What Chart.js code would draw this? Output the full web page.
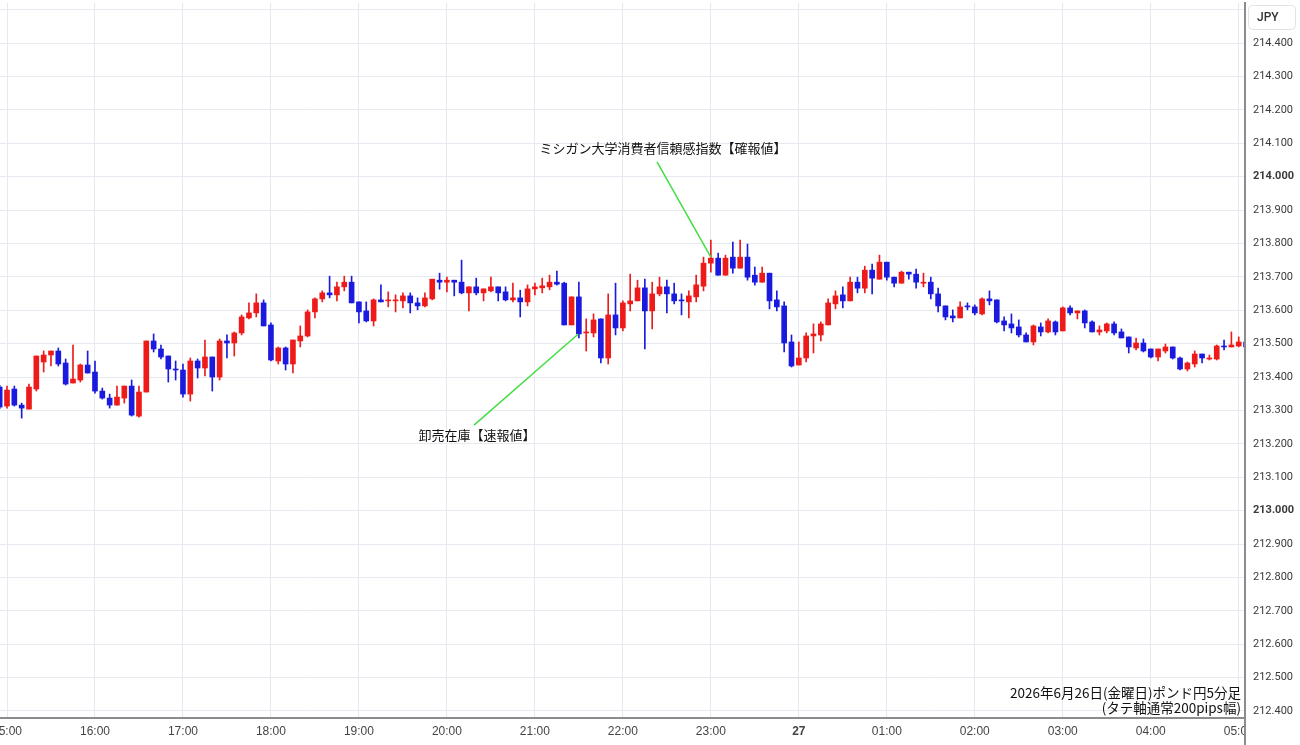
<!DOCTYPE html>
<html lang="ja">
<head>
<meta charset="utf-8">
<title>ポンド円5分足</title>
<script src="https://cdn.jsdelivr.net/npm/chart.js@4.4.1/dist/chart.umd.min.js"></script>
<style>
  html, body { margin: 0; padding: 0; background: #fff; }
  #wrap { width: 1300px; height: 745px; }
</style>
</head>
<body>
<div id="wrap"><canvas id="chart" width="1300" height="745"></canvas></div>
<script>
// 5-minute candles, first one at 14:55 (minutes counted from 15:00)
const firstMinute = -5;
const stepMinutes = 5;

const open = [213.370,
  213.313, 213.364, 213.316, 213.304, 213.364, 213.445, 213.466, 213.478, 213.442, 213.382, 213.391, 213.436,
  213.415, 213.358, 213.337, 213.316, 213.337, 213.373, 213.283, 213.355, 213.508, 213.484, 213.463, 213.424,
  213.421, 213.349, 213.448, 213.427, 213.460, 213.400, 213.508, 213.502, 213.532, 213.577, 213.592, 213.622,
  213.556, 213.448, 213.487, 213.439, 213.508, 213.523, 213.595, 213.634, 213.652, 213.646, 213.670, 213.684,
  213.625, 213.598, 213.568, 213.631, 213.628, 213.628, 213.628, 213.643, 213.622, 213.613, 213.634, 213.690,
  213.684, 213.690, 213.684, 213.652, 213.670, 213.652, 213.658, 213.670, 213.655, 213.631, 213.637, 213.625,
  213.664, 213.667, 213.670, 213.684, 213.681, 213.556, 213.640, 213.532, 213.532, 213.574, 213.457, 213.586,
  213.547, 213.619, 213.628, 213.667, 213.598, 213.649, 213.670, 213.649, 213.631, 213.625, 213.640, 213.672,
  213.741, 213.756, 213.705, 213.759, 213.726, 213.759, 213.705, 213.684, 213.711, 213.631, 213.613, 213.505,
  213.436, 213.457, 213.523, 213.526, 213.556, 213.619, 213.646, 213.628, 213.684, 213.666, 213.720, 213.693,
  213.744, 213.699, 213.681, 213.714, 213.708, 213.681, 213.684, 213.649, 213.613, 213.583, 213.577, 213.613,
  213.610, 213.589, 213.634, 213.631, 213.568, 213.559, 213.550, 213.526, 213.505, 213.550, 213.535, 213.565,
  213.538, 213.607, 213.592, 213.598, 213.565, 213.535, 213.538, 213.559, 213.535, 213.520, 213.487, 213.502,
  213.484, 213.460, 213.478, 213.490, 213.457, 213.424, 213.439, 213.469, 213.454, 213.454, 213.493, 213.490,
  213.493, 213.505];

const high = [213.375,
  213.373, 213.373, 213.322, 213.379, 213.463, 213.478, 213.478, 213.487, 213.454, 213.496, 213.439, 213.478,
  213.448, 213.367, 213.349, 213.373, 213.373, 213.391, 213.373, 213.508, 213.529, 213.496, 213.463, 213.448,
  213.439, 213.457, 213.454, 213.511, 213.460, 213.514, 213.526, 213.535, 213.586, 213.622, 213.649, 213.631,
  213.562, 213.490, 213.490, 213.511, 213.553, 213.601, 213.637, 213.658, 213.702, 213.684, 213.702, 213.702,
  213.625, 213.625, 213.634, 213.676, 213.655, 213.646, 213.652, 213.652, 213.637, 213.652, 213.693, 213.711,
  213.699, 213.690, 213.750, 213.670, 213.696, 213.664, 213.699, 213.670, 213.670, 213.681, 213.660, 213.676,
  213.681, 213.696, 213.705, 213.717, 213.684, 213.640, 213.684, 213.574, 213.589, 213.574, 213.649, 213.681,
  213.628, 213.708, 213.690, 213.693, 213.684, 213.699, 213.690, 213.681, 213.649, 213.658, 213.705, 213.759,
  213.810, 213.771, 213.765, 213.804, 213.810, 213.798, 213.729, 213.729, 213.711, 213.658, 213.625, 213.526,
  213.505, 213.532, 213.559, 213.565, 213.634, 213.658, 213.670, 213.699, 213.699, 213.732, 213.738, 213.765,
  213.744, 213.699, 213.717, 213.714, 213.723, 213.711, 213.699, 213.666, 213.613, 213.601, 213.625, 213.622,
  213.616, 213.637, 213.658, 213.631, 213.580, 213.589, 213.571, 213.532, 213.556, 213.562, 213.574, 213.568,
  213.610, 213.613, 213.598, 213.601, 213.568, 213.553, 213.562, 213.565, 213.544, 213.520, 213.517, 213.514,
  213.484, 213.484, 213.499, 213.490, 213.460, 213.445, 213.478, 213.469, 213.466, 213.496, 213.511, 213.535,
  213.520, 213.508];

const low = [213.305,
  213.307, 213.313, 213.277, 213.304, 213.358, 213.415, 213.433, 213.433, 213.376, 213.382, 213.385, 213.412,
  213.352, 213.334, 213.307, 213.316, 213.322, 213.283, 213.280, 213.355, 213.475, 213.454, 213.385, 213.391,
  213.340, 213.328, 213.397, 213.403, 213.358, 213.391, 213.457, 213.463, 213.526, 213.574, 213.580, 213.553,
  213.448, 213.439, 213.421, 213.412, 213.490, 213.520, 213.577, 213.625, 213.637, 213.628, 213.658, 213.622,
  213.562, 213.565, 213.553, 213.625, 213.610, 213.595, 213.607, 213.592, 213.601, 213.610, 213.631, 213.663,
  213.655, 213.643, 213.649, 213.598, 213.646, 213.628, 213.655, 213.628, 213.628, 213.625, 213.580, 213.613,
  213.646, 213.652, 213.661, 213.675, 213.556, 213.556, 213.517, 213.478, 213.520, 213.442, 213.439, 213.526,
  213.538, 213.598, 213.628, 213.484, 213.544, 213.643, 213.592, 213.619, 213.586, 213.577, 213.625, 213.658,
  213.714, 213.705, 213.705, 213.711, 213.726, 213.690, 213.675, 213.684, 213.604, 213.598, 213.475, 213.430,
  213.436, 213.445, 213.472, 213.508, 213.556, 213.604, 213.607, 213.628, 213.652, 213.652, 213.649, 213.693,
  213.690, 213.670, 213.681, 213.693, 213.666, 213.670, 213.634, 213.595, 213.571, 213.565, 213.577, 213.601,
  213.586, 213.586, 213.616, 213.562, 213.538, 213.532, 213.520, 213.505, 213.496, 213.523, 213.532, 213.526,
  213.538, 213.586, 213.574, 213.547, 213.535, 213.526, 213.532, 213.526, 213.517, 213.472, 213.481, 213.475,
  213.457, 213.448, 213.472, 213.454, 213.421, 213.418, 213.430, 213.442, 213.451, 213.451, 213.481, 213.490,
  213.490, 213.488];

const close = [213.310,
  213.361, 213.316, 213.307, 213.370, 213.463, 213.466, 213.478, 213.439, 213.379, 213.394, 213.436, 213.412,
  213.358, 213.337, 213.316, 213.340, 213.373, 213.286, 213.355, 213.508, 213.484, 213.460, 213.424, 213.421,
  213.349, 213.448, 213.427, 213.460, 213.400, 213.508, 213.502, 213.532, 213.580, 213.592, 213.622, 213.553,
  213.451, 213.487, 213.439, 213.511, 213.523, 213.595, 213.634, 213.652, 213.646, 213.670, 213.684, 213.622,
  213.595, 213.568, 213.631, 213.625, 213.631, 213.631, 213.643, 213.622, 213.613, 213.637, 213.693, 213.684,
  213.690, 213.684, 213.652, 213.670, 213.652, 213.664, 213.670, 213.652, 213.631, 213.637, 213.625, 213.664,
  213.670, 213.673, 213.684, 213.678, 213.556, 213.640, 213.529, 213.535, 213.571, 213.457, 213.586, 213.547,
  213.622, 213.628, 213.667, 213.598, 213.649, 213.670, 213.649, 213.628, 213.628, 213.643, 213.676, 213.741,
  213.756, 213.705, 213.756, 213.726, 213.759, 213.699, 213.684, 213.711, 213.628, 213.610, 213.502, 213.433,
  213.457, 213.523, 213.529, 213.559, 213.622, 213.643, 213.628, 213.684, 213.666, 213.720, 213.696, 213.744,
  213.699, 213.681, 213.714, 213.708, 213.684, 213.684, 213.649, 213.613, 213.580, 213.577, 213.610, 213.610,
  213.592, 213.634, 213.628, 213.565, 213.556, 213.547, 213.526, 213.505, 213.553, 213.535, 213.568, 213.535,
  213.607, 213.592, 213.598, 213.562, 213.535, 213.541, 213.559, 213.532, 213.517, 213.490, 213.502, 213.478,
  213.460, 213.484, 213.490, 213.457, 213.424, 213.442, 213.469, 213.457, 213.457, 213.493, 213.490, 213.496,
  213.505, 213.490];

// axis ticks
const xTickMinutes = [0, 60, 120, 180, 240, 300, 360, 420, 480, 540, 600, 660, 720, 780, 840];
const xTickLabels = ['15:00', '16:00', '17:00', '18:00', '19:00', '20:00', '21:00', '22:00', '23:00', '27', '01:00', '02:00', '03:00', '04:00', '05:00'];
const yTicks = [212.4, 212.5, 212.6, 212.7, 212.8, 212.9, 213.0, 213.1, 213.2, 213.3, 213.4, 213.5, 213.6, 213.7, 213.8, 213.9, 214.0, 214.1, 214.2, 214.3, 214.4, 214.5];

// event notes: label centre and leader line, in (minute, price)
const notes = [
  { text: 'ミシガン大学消費者信頼感指数【確報値】', label: [447.4, 214.086], from: [443.3, 214.044], to: [480, 213.759] },
  { text: '卸売在庫【速報値】', label: [320.5, 213.226], from: [318.5, 213.256], to: [389.6, 213.529] }
];
const footer = ['2026年6月26日(金曜日)ポンド円5分足', '(タテ軸通常200pips幅)'];

const UP = '#ee1b1b';
const DOWN = '#1b1bdf';
const GRID = '#e5eaf0';
const AXIS = '#8c8c8c';
const JP_FONT = "'Noto Sans CJK JP', 'Noto Sans', sans-serif";

const xs = open.map((_, k) => firstMinute + k * stepMinutes);
const colors = xs.map((_, k) => close[k] >= open[k] ? UP : DOWN);

const overlay = {
    id: 'overlay',
    afterDraw(chart) {
        const { ctx, scales: { x, y } } = chart;
        ctx.save();

        // leader lines + labels
        notes.forEach(n => {
            ctx.strokeStyle = '#44dd44';
            ctx.lineWidth = 1.5;
            ctx.beginPath();
            ctx.moveTo(x.getPixelForValue(n.from[0]), y.getPixelForValue(n.from[1]));
            ctx.lineTo(x.getPixelForValue(n.to[0]), y.getPixelForValue(n.to[1]));
            ctx.stroke();
            ctx.fillStyle = '#111';
            ctx.font = '13px ' + JP_FONT;
            ctx.textAlign = 'center';
            ctx.textBaseline = 'middle';
            ctx.fillText(n.text, x.getPixelForValue(n.label[0]), y.getPixelForValue(n.label[1]));
        });

        // footer note, bottom right
        ctx.fillStyle = '#111';
        ctx.font = '13.5px ' + JP_FONT;
        ctx.textAlign = 'right';
        ctx.textBaseline = 'middle';
        ctx.fillText(footer[0], 1241, 693);
        ctx.fillText(footer[1], 1241, 708);

        // hide time label overflow under the price axis
        ctx.fillStyle = '#fff';
        ctx.fillRect(1246, 719, 54, 26);

        // axis frame lines
        ctx.strokeStyle = AXIS;
        ctx.lineWidth = 2;
        ctx.beginPath();
        ctx.moveTo(0, 718);
        ctx.lineTo(1246, 718);
        ctx.moveTo(1245, 2);
        ctx.lineTo(1245, 745);
        ctx.stroke();

        // currency box
        ctx.fillStyle = '#fff';
        ctx.strokeStyle = '#e2e2e2';
        ctx.lineWidth = 1;
        ctx.beginPath();
        ctx.roundRect(1248.5, 5.5, 47, 24, 4);
        ctx.fill();
        ctx.stroke();
        ctx.fillStyle = '#333';
        ctx.font = '500 12px Roboto, sans-serif';
        ctx.textAlign = 'left';
        ctx.fillText('JPY', 1257, 18);

        ctx.restore();
    }
};

new Chart(document.getElementById('chart'), {
    type: 'bar',
    data: {
        datasets: [{
            label: 'wick',
            data: xs.map((v, k) => ({ x: v, y: [low[k], high[k]] })),
            backgroundColor: colors,
            barThickness: 1,
            grouped: false,
            borderWidth: 0
        }, {
            label: 'body',
            data: xs.map((v, k) => ({ x: v, y: [open[k], close[k]] })),
            backgroundColor: colors,
            barThickness: 5,
            minBarLength: 1,
            grouped: false,
            borderWidth: 0
        }]
    },
    plugins: [overlay],
    options: {
        responsive: false,
        animation: false,
        layout: { padding: { top: 3, left: 0, right: 0, bottom: 0 } },
        plugins: {
            legend: { display: false },
            tooltip: { enabled: false }
        },
        scales: {
            x: {
                type: 'linear',
                offset: false,
                min: -4.774,
                max: 844.28,
                grid: { color: GRID, drawTicks: false, offset: false },
                border: { display: false },
                afterBuildTicks: axis => { axis.ticks = xTickMinutes.map(v => ({ value: v })); },
                afterFit: axis => { axis.height = 27; axis.paddingLeft = 0; axis.paddingRight = 0; },
                ticks: {
                    autoSkip: false,
                    maxRotation: 0,
                    padding: 6,
                    color: '#444',
                    font: c => ({
                        family: "'Liberation Sans Narrow', 'Liberation Sans', Arial, sans-serif",
                        size: 12,
                        weight: c.tick && c.tick.label === '27' ? 'bold' : 'normal'
                    }),
                    callback: (value, index) => xTickLabels[index]
                }
            },
            y: {
                position: 'right',
                min: 212.379,
                max: 214.520,
                beginAtZero: false,
                grid: { color: GRID, drawTicks: false },
                border: { display: false },
                afterBuildTicks: axis => { axis.ticks = yTicks.map(v => ({ value: v })); },
                afterFit: axis => { axis.width = 55; axis.paddingTop = 0; axis.paddingBottom = 0; },
                ticks: {
                    padding: 8,
                    color: '#3a3a3a',
                    font: c => ({
                        family: 'Roboto, sans-serif',
                        size: 11,
                        weight: c.tick && Math.abs(c.tick.value - Math.round(c.tick.value)) < 1e-6 ? 'bold' : 'normal'
                    }),
                    callback: value => value > 214.45 ? '' : value.toFixed(3)
                }
            }
        }
    }
});
</script>
</body>
</html>
